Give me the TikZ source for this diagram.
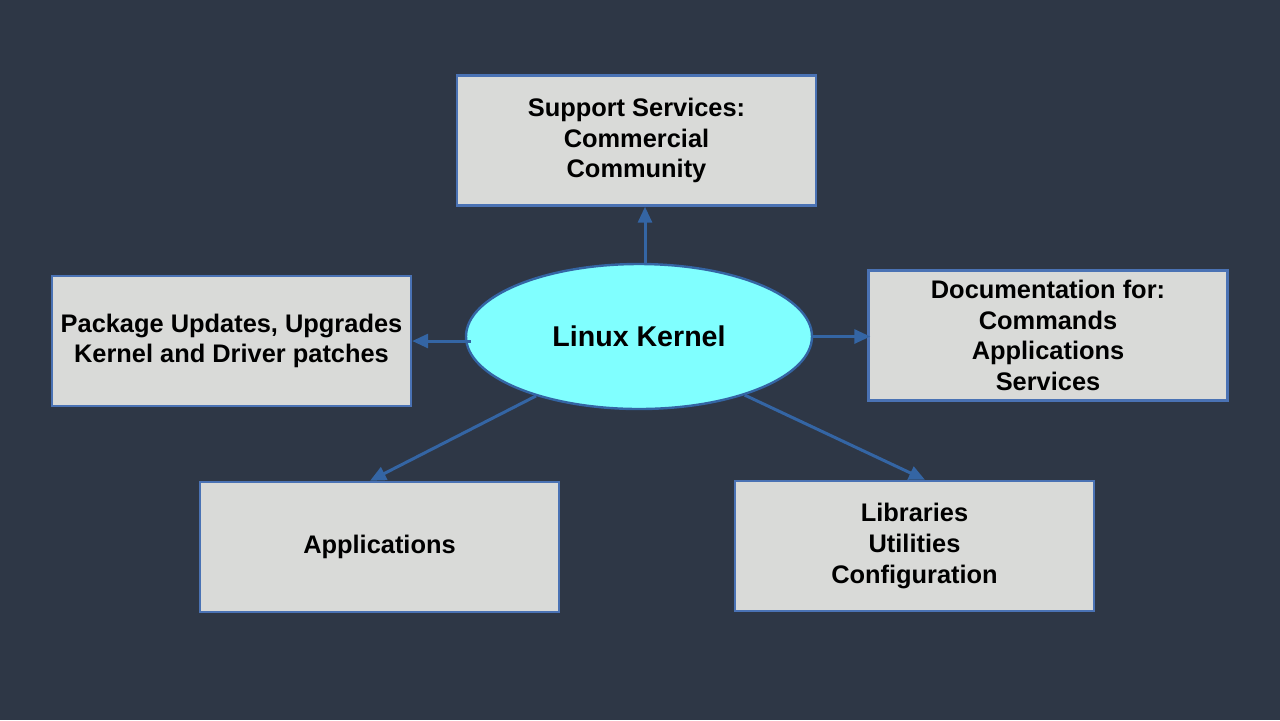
\documentclass[tikz,border=0pt]{standalone}
\usepackage{fontspec}
\setmainfont{Liberation Sans}
\usetikzlibrary{arrows.meta,shapes.geometric,calc}
\definecolor{bg}{HTML}{2E3746}
\definecolor{boxfill}{HTML}{D9DAD8}
\definecolor{boxline}{HTML}{4A72B4}
\definecolor{ellfill}{HTML}{80FFFF}
\definecolor{arrowc}{HTML}{3465A4}
\tikzset{
  infobox/.style={draw=boxline, line width=1.2pt, fill=boxfill, minimum width=179.5pt, minimum height=65pt, align=center, font=\bfseries\fontsize{12.7}{15.4}\selectfont, text=black, inner sep=0pt},
  kernel/.style={ellipse, draw=arrowc, line width=1.2pt, fill=ellfill, minimum width=173pt, minimum height=72.5pt, font=\bfseries\fontsize{14.3}{16}\selectfont, text=black, inner sep=0pt},
  link/.style={draw=arrowc, line width=1.5pt, -{Triangle[length=8pt,width=7pt]}}
}
\begin{document}
\begin{tikzpicture}[x=0.5pt,y=-0.5pt]
\fill[bg] (0,0) rectangle (1280,720);
\useasboundingbox (0,0) rectangle (1280,720);
\node[infobox] (sup) at (636.5,140.5) {Support Services:\\Commercial\\Community};
\node[infobox] (pkg) at (231.5,341) {Package Updates, Upgrades\\Kernel and Driver patches};
\node[infobox] (doc) at (1048,335.5) {Documentation for:\\Commands\\Applications\\Services};
\node[infobox] (app) at (379.5,547) {Applications};
\node[infobox] (lib) at (914.5,546) {Libraries\\Utilities\\Configuration};
\node[kernel] (k) at (639,336.5) {Linux Kernel};
\coordinate (ktop) at ([xshift=3pt]k.north);
\coordinate (kleft) at ($(k.west |- pkg.east)+(6,0)$);
\draw[link] (ktop) -- (sup.south -| ktop);
\draw[link] (kleft) -- (pkg.east);
\draw[link] (k.east) -- ($(doc.west |- k.east)+(3,0)$);
\draw[link] (k.210) -- ([xshift=-4.75pt]app.north);
\draw[link] (k.331) -- ([xshift=5.25pt]lib.north);
\end{tikzpicture}
\end{document}
